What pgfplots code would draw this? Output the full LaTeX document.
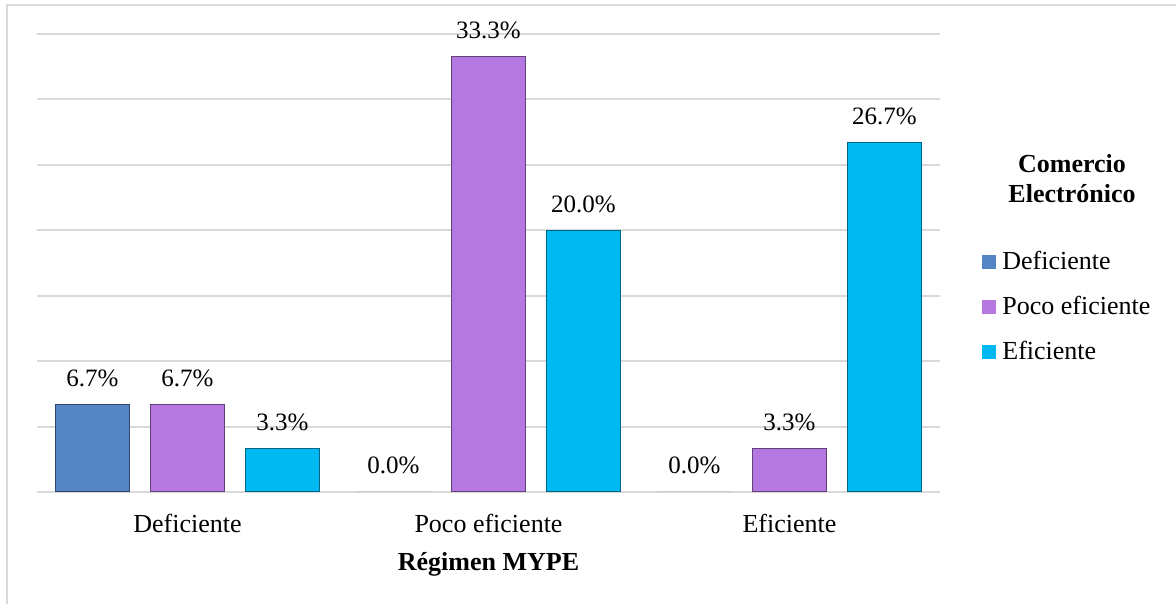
\documentclass[border=0pt]{standalone}
\usepackage{pgfplots}
\pgfplotsset{compat=1.18}
\usepackage{fontspec}
\setmainfont{Liberation Serif}
\definecolor{cBlue}{HTML}{5585C5}
\definecolor{cPurple}{HTML}{B577E0}
\definecolor{cCyan}{HTML}{00B8F2}
\definecolor{gridc}{HTML}{D9D9D9}
\begin{document}
\begin{tikzpicture}
\useasboundingbox (0,0) rectangle (588pt,302pt);
\draw[gridc, line width=1pt] (3.5pt,-5pt) -- (3.5pt,299.5pt) -- (600pt,299.5pt);
\begin{axis}[
  at={(18.5pt,56pt)}, anchor=south west,
  scale only axis, width=451.5pt, height=229pt,
  xmin=-0.5, xmax=2.5, ymin=0, ymax=35,
  xtick={0,1,2}, xticklabels={Deficiente, Poco eficiente, Eficiente},
  ytick={0,5,...,35}, yticklabels={},
  major tick length=0pt,
  axis line style={draw=none},
  ymajorgrids, grid style={gridc, line width=1pt},
  xticklabel style={font=\fontsize{13}{15}\selectfont, anchor=base, inner sep=0pt, yshift=-20pt},
  xlabel={\textbf{Régimen MYPE}},
  x label style={at={(axis description cs:0.5,0)}, anchor=base, inner sep=0pt, yshift=-39pt, font=\fontsize{13}{15}\selectfont},
  ybar, bar width=37pt,
  nodes near coords style={font=\fontsize{12.5}{15}\selectfont, anchor=base, inner sep=0pt, yshift=9pt},
  legend style={at={(1.0465,0.5306)}, anchor=north west, draw=none, fill=none, inner sep=0pt,
    row sep=9.5pt, column sep=3pt,
    nodes={inner sep=0pt, text height=10pt, text depth=3pt, anchor=base west, font=\fontsize{13}{15}\selectfont}},
  legend cell align=left,
  legend image code/.code={\fill[#1] (0pt,0pt) rectangle (7pt,7pt);},
]
\addplot[fill=cBlue, draw=none, bar shift=-47.5pt,
  nodes near coords={\pgfmathprintnumber[fixed,fixed zerofill,precision=1,assume math mode=true]{\pgfplotspointmeta}\%}]
  coordinates {(0,6.7) (1,0) (2,0)};
\addplot[fill=cPurple, draw=none, bar shift=0pt,
  nodes near coords={\pgfmathprintnumber[fixed,fixed zerofill,precision=1,assume math mode=true]{\pgfplotspointmeta}\%}]
  coordinates {(0,6.7) (1,33.3) (2,3.3)};
\addplot[fill=cCyan, draw=none, bar shift=47.5pt,
  nodes near coords={\pgfmathprintnumber[fixed,fixed zerofill,precision=1,assume math mode=true]{\pgfplotspointmeta}\%}]
  coordinates {(0,3.3) (1,20.0) (2,26.7)};
\legend{Deficiente, Poco eficiente, Eficiente}
% outlines of the non-zero bars
\addplot[forget plot, fill=none, draw=cBlue!55!black, line width=0.6pt, bar shift=-47.5pt] coordinates {(0,6.7)};
\addplot[forget plot, fill=none, draw=cPurple!55!black, line width=0.6pt, bar shift=0pt] coordinates {(0,6.7) (1,33.3) (2,3.3)};
\addplot[forget plot, fill=none, draw=cCyan!55!black, line width=0.6pt, bar shift=47.5pt] coordinates {(0,3.3) (1,20.0) (2,26.7)};
\end{axis}
\node[anchor=base, inner sep=0pt, font=\fontsize{13}{15}\selectfont\bfseries] at (536pt,215.5pt) {Comercio};
\node[anchor=base, inner sep=0pt, font=\fontsize{13}{15}\selectfont\bfseries] at (536pt,200.5pt) {Electrónico};
\end{tikzpicture}
\end{document}
